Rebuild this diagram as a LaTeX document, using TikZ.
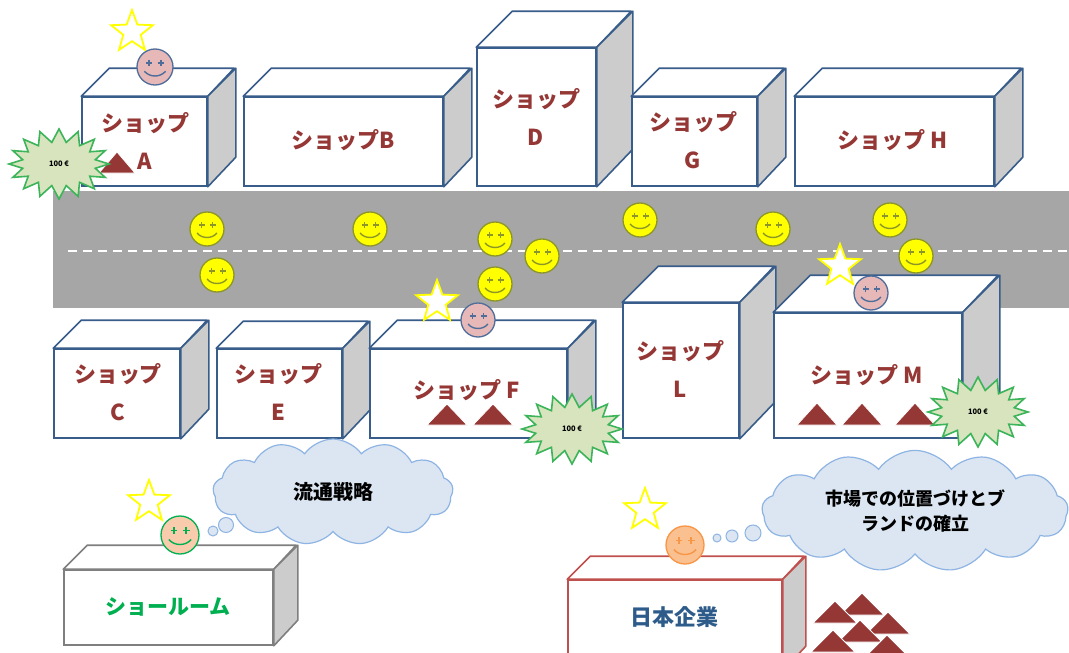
\documentclass[tikz,border=0pt]{standalone}
\usepackage{fontspec}
\newfontfamily\jp{Noto Sans CJK JP}
\usetikzlibrary{shapes.geometric,shapes.symbols,fit}

\definecolor{roadgray}{RGB}{166,166,166}
\definecolor{edgeblue}{RGB}{56,93,138}
\definecolor{sidegray}{RGB}{204,204,204}
\definecolor{shoptext}{RGB}{149,55,53}
\definecolor{badgefill}{RGB}{215,228,189}
\definecolor{badgeline}{RGB}{60,180,90}
\definecolor{cloudfill}{RGB}{220,230,242}
\definecolor{cloudline}{RGB}{142,180,227}
\definecolor{faceyellow}{RGB}{255,255,0}
\definecolor{oliveline}{RGB}{140,150,40}
\definecolor{pinkface}{RGB}{230,185,184}
\definecolor{pinkline}{RGB}{79,109,154}
\definecolor{peachface}{RGB}{247,203,172}
\definecolor{greenline}{RGB}{0,176,80}
\definecolor{orangeface}{RGB}{250,192,144}
\definecolor{orangeline}{RGB}{247,150,70}
\definecolor{grayedge}{RGB}{127,127,127}
\definecolor{rededge}{RGB}{192,80,77}
\definecolor{corpblue}{RGB}{46,92,138}
\definecolor{mound}{RGB}{149,55,53}

\tikzset{
  shoplabel/.style={font=\jp\bfseries\fontsize{22}{38}\selectfont, text=shoptext, align=center, inner sep=0pt},
  badge/.style={starburst, starburst points=16, starburst point height=13pt, random starburst=0,
    fill=badgefill, draw=badgeline, line width=1.6pt, inner sep=0pt,
    minimum width=100pt, minimum height=70pt, font=\jp\bfseries\fontsize{7.5}{8}\selectfont},
  bigstar/.style={star, star points=5, star point ratio=2.4, minimum size=44pt, inner sep=0pt,
    draw=faceyellow, fill=white, line width=1.8pt},
  thought/.style={cloud, cloud puffs=13, cloud puff arc=110, fill=cloudfill, draw=cloudline,
    line width=1.2pt, align=center, font=\jp\bfseries, text=black},
  bubble/.style={circle, fill=cloudfill, draw=cloudline, line width=1pt, inner sep=0pt},
  lane/.style={white, line width=2pt, dash pattern=on 9pt off 6pt}
}

% a shop block: front face as a node, top and side faces drawn from its corners
% #1 name, #2 left, #3 top, #4 right, #5 bottom, #6 depth, #7 edge colour
\newcommand\shopcube[7]{%
  \node[fit={(#2,#3) (#4,#5)}, inner sep=0pt, draw=#7, fill=white, line width=1.6pt] (#1) {};
  \draw[draw=#7, fill=white, line width=1.6pt, line join=round]
    (#1.north west) -- ++(#6,-#6) -- ++({#4-#2},0) -- (#1.north east) -- cycle;
  \draw[draw=#7, fill=sidegray, line width=1.6pt, line join=round]
    (#1.north east) -- ++(#6,-#6) -- ++(0,{#5-#3}) -- (#1.south east) -- cycle;
}

% a smiling face: #1 name, #2 x, #3 y, #4 radius, #5 face colour, #6 line colour
\newcommand\smiley[6]{%
  \pgfmathsetmacro\facesize{2*#4}%
  \pgfmathsetmacro\facescale{#4/17}%
  \node[circle, draw=#6, fill=#5, line width=1.3pt, minimum size=\facesize pt, inner sep=0pt] (#1) at (#2,#3) {};
  \begin{scope}[shift={(#1.center)}, scale=\facescale]
    \draw[#6, line width=1.5pt] (-8.5,-4) -- (-2.5,-4) (-5.5,-7) -- (-5.5,-1)
                               (2.5,-4) -- (8.5,-4) (5.5,-7) -- (5.5,-1);
    \draw[#6, line width=1.4pt] (-10,4) .. controls (-5,10) and (5,10) .. (10,4);
  \end{scope}
}

% a dark red triangle: #1 apex x, #2 apex y, #3 width, #4 height
\newcommand\mound[4]{%
  \filldraw[fill=mound, draw=white, line width=0.8pt, line join=miter]
    (#1,#2) -- ({#1+#3/2},{#2+#4}) -- ({#1-#3/2},{#2+#4}) -- cycle;
}

\begin{document}
\begin{tikzpicture}[x=1pt, y=-1pt]
  \useasboundingbox (0,0) rectangle (1069,653);
  \clip (0,0) rectangle (1069,653);
  \fill[white] (0,0) rectangle (1069,653);

  % street with its centre line
  \node[fit={(53,191) (1069,308)}, inner sep=0pt, fill=roadgray] (road) {};
  \coordinate (laneW) at (68,251);
  \coordinate (laneE) at (1069,251);
  \draw[lane] (laneW) -- (laneE);

  % shops along the street
  \shopcube{shopA}{82}{97}{207}{186}{28}{edgeblue}
  \shopcube{shopB}{244}{97}{443}{186}{28}{edgeblue}
  \shopcube{shopD}{477}{48}{596}{186}{36}{edgeblue}
  \shopcube{shopG}{632}{97}{757}{186}{28}{edgeblue}
  \shopcube{shopH}{795}{97}{994}{186}{28}{edgeblue}
  \shopcube{shopC}{54}{349}{180}{438}{28}{edgeblue}
  \shopcube{shopE}{217}{349}{342}{438}{27}{edgeblue}
  \shopcube{shopF}{370}{349}{567}{438}{28}{edgeblue}
  \shopcube{shopL}{623}{303}{739}{438}{36}{edgeblue}
  \shopcube{shopM}{774}{313}{962}{438}{37}{edgeblue}

  % shop names
  \node[shoplabel] (labA) at (145,141) {ショップ\\A};
  \node[shoplabel] (labB) at (343,140) {ショップB};
  \node[shoplabel] (labD) at (536,117) {ショップ\\D};
  \node[shoplabel] (labG) at (693,140) {ショップ\\G};
  \node[shoplabel] (labH) at (893,140) {ショップ H};
  \node[shoplabel] (labC) at (118,392) {ショップ\\C};
  \node[shoplabel] (labE) at (278,392) {ショップ\\E};
  \node[shoplabel] (labF) at (467,390) {ショップ F};
  \node[shoplabel] (labL) at (680,369) {ショップ\\L};
  \node[shoplabel] (labM) at (867,375) {ショップ M};

  % goods inside the shops
  \mound{117}{152}{36}{21}
  \mound{447}{404}{40}{21}
  \mound{493}{404}{40}{21}
  \mound{817}{403}{40}{22}
  \mound{862}{403}{40}{22}
  \mound{915}{403}{40}{22}

  % price badges
  \node[badge] (badgeA) at (59,164) {100 €};
  \node[badge] (badgeF) at (572,429) {100 €};
  \node[badge] (badgeM) at (978,412) {100 €};

  % passers-by
  \smiley{p1}{207}{229}{17}{faceyellow}{oliveline}
  \smiley{p2}{217}{275}{17}{faceyellow}{oliveline}
  \smiley{p3}{370}{229}{17}{faceyellow}{oliveline}
  \smiley{p4}{495}{239}{17}{faceyellow}{oliveline}
  \smiley{p5}{542}{256}{17}{faceyellow}{oliveline}
  \smiley{p6}{495}{284}{17}{faceyellow}{oliveline}
  \smiley{p7}{640}{220}{17}{faceyellow}{oliveline}
  \smiley{p8}{773}{229}{17}{faceyellow}{oliveline}
  \smiley{p9}{890}{220}{17}{faceyellow}{oliveline}
  \smiley{p10}{916}{256}{17}{faceyellow}{oliveline}

  % shop staff with stars
  \node[bigstar] (starA) at (132,32) {};
  \node[bigstar] (starF) at (437,302) {};
  \node[bigstar] (starM) at (840,266) {};
  \smiley{staffA}{155}{67}{18}{pinkface}{pinkline}
  \smiley{staffF}{478}{320}{17}{pinkface}{pinkline}
  \smiley{staffM}{871}{293}{17}{pinkface}{pinkline}

  % showroom
  \shopcube{showroom}{64}{570}{273}{645}{24}{grayedge}
  \node[font=\jp\bfseries\fontsize{21}{24}\selectfont, text=greenline, inner sep=0pt] (showtxt) at (168,607) {ショールーム};
  \node[bigstar] (starS) at (149,502) {};
  \smiley{staffS}{180}{535}{19}{peachface}{greenline}
  \node[thought, minimum width=240pt, minimum height=106pt, aspect=2.3,
        font=\jp\bfseries\fontsize{20}{24}\selectfont] (cloudS) at (333,492) {流通戦略};
  \node[bubble, minimum size=10pt] (bs1) at (213,531) {};
  \node[bubble, minimum size=15pt] (bs2) at (226,525) {};

  % Japanese company
  \shopcube{corp}{568}{580}{782}{670}{23}{rededge}
  \node[font=\jp\bfseries\fontsize{22}{24}\selectfont, text=corpblue, inner sep=0pt] (corptxt) at (674,617) {日本企業};
  \node[bigstar] (starJ) at (645,510) {};
  \smiley{staffJ}{685}{545}{19}{orangeface}{orangeline}
  \node[thought, minimum width=306pt, minimum height=104pt, aspect=2.9,
        font=\jp\bfseries\fontsize{18}{25}\selectfont] (cloudJ) at (915,511) {市場での位置づけとブ\\ランドの確立};
  \node[bubble, minimum size=8pt] (bj1) at (717,538) {};
  \node[bubble, minimum size=12pt] (bj2) at (732,536) {};
  \node[bubble, minimum size=16pt] (bj3) at (753,533) {};

  % stock of goods beside the company
  \mound{862}{593}{44}{22}
  \mound{835}{601}{44}{22}
  \mound{888}{612}{44}{22}
  \mound{860}{620}{44}{22}
  \mound{833}{630}{44}{22}
  \mound{887}{635}{44}{22}
\end{tikzpicture}
\end{document}
